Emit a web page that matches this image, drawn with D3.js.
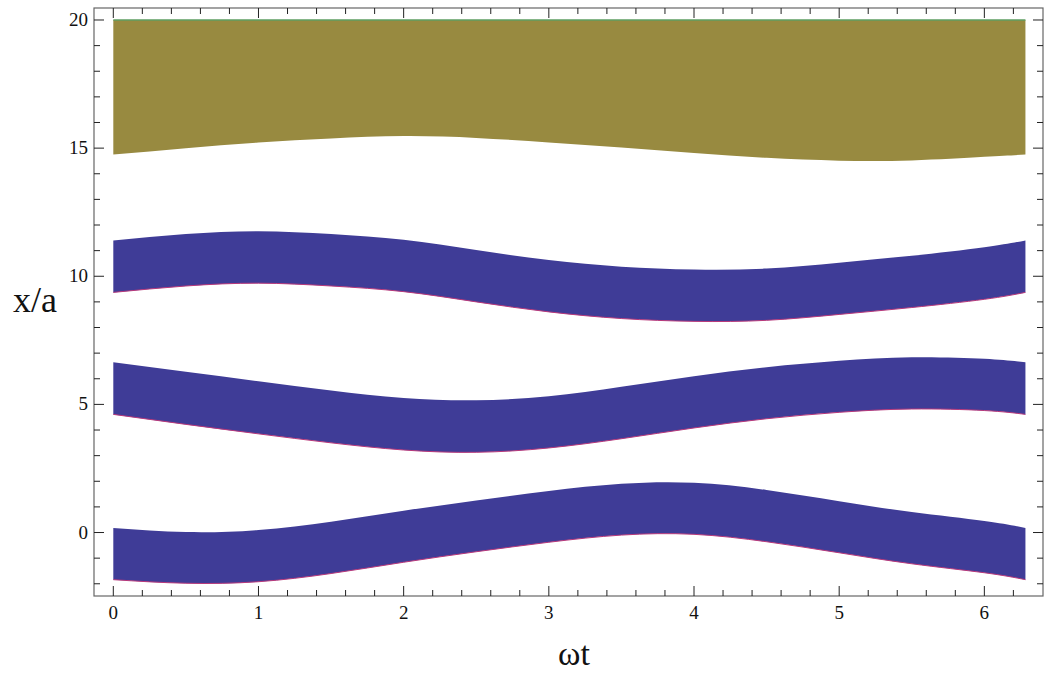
<!DOCTYPE html>
<html lang="en">
    <head>
        <meta charset="utf-8">
        <title></title>
        <script src="https://d3js.org/d3.v7.min.js"></script>
        <style type="text/css">
      body { margin: 0; background: white; }
      .band { fill: #3f3c97; stroke: none; }
      .bandEdge { fill: none; stroke: #b8387a; stroke-width: 1.0px; }
      .topBand { fill: #988a40; stroke: none; }
      .topEdge { fill: none; stroke: #5e9e62; stroke-width: 1.6px; }
      .frame { fill: none; stroke: #666; stroke-width: 1.2px; }
      .tick { stroke: #222; stroke-width: 1px; }
      .ticklabel { font-family: "Liberation Serif", "Times New Roman", "DejaVu Serif", serif; font-size: 19px; fill: #111; }
      .axislabel { font-family: "Liberation Serif", "Times New Roman", "DejaVu Serif", serif; fill: #111; }
        </style>
    </head>
    <body>
    <svg width="1045" height="676"></svg>
    <script>
      // omega t samples
      var tVals = [0, 0.5, 1, 1.5, 2, 2.5, 3, 3.5, 4, 4.5, 5, 5.5, 6, 6.283];

      // band edges (x/a)
      var band1Low  = [-1.84, -1.98, -1.92, -1.60, -1.16, -0.75, -0.38, -0.10, -0.07, -0.36, -0.79, -1.22, -1.57, -1.84];
      var band1High = [0.18, 0.02, 0.10, 0.42, 0.85, 1.25, 1.62, 1.90, 1.94, 1.66, 1.22, 0.80, 0.45, 0.18];
      var band2Low  = [4.61, 4.22, 3.85, 3.50, 3.22, 3.13, 3.30, 3.66, 4.08, 4.44, 4.69, 4.82, 4.76, 4.61];
      var band2High = [6.64, 6.27, 5.90, 5.54, 5.25, 5.16, 5.32, 5.69, 6.10, 6.45, 6.70, 6.84, 6.78, 6.64];
      var band3Low  = [9.37, 9.62, 9.73, 9.62, 9.40, 9.00, 8.61, 8.35, 8.24, 8.28, 8.51, 8.78, 9.10, 9.37];
      var band3High = [11.40, 11.65, 11.76, 11.65, 11.42, 11.02, 10.63, 10.37, 10.26, 10.30, 10.53, 10.80, 11.13, 11.40];
      var topLow    = [14.75, 15.00, 15.22, 15.38, 15.47, 15.40, 15.22, 15.02, 14.81, 14.62, 14.51, 14.52, 14.66, 14.75];
      var topHigh   = 20;

      var xTicks = [0, 1, 2, 3, 4, 5, 6];
      var yTicks = [0, 5, 10, 15, 20];

      var svg = d3.select("svg");
      var plotLeft = 94, plotRight = 1043, plotTop = 8, plotBottom = 596;

      var xScale = d3.scaleLinear().domain([-0.133, 6.404]).range([plotLeft, plotRight]);
      var yScale = d3.scaleLinear().domain([-2.477, 20.468]).range([plotBottom, plotTop]);

      function rows(lo, hi) {
        return tVals.map(function(t, i) {
          return {t: t, lo: lo[i], hi: (typeof hi === "number") ? hi : hi[i]};
        });
      }

      var area = d3.area()
        .x(d => xScale(d.t))
        .y0(d => yScale(d.lo))
        .y1(d => yScale(d.hi))
        .curve(d3.curveNatural);
      var lowLine = d3.line()
        .x(d => xScale(d.t))
        .y(d => yScale(d.lo))
        .curve(d3.curveNatural);
      var highLine = d3.line()
        .x(d => xScale(d.t))
        .y(d => yScale(d.hi))
        .curve(d3.curveNatural);

      var g = svg.append("g");

      // olive region up to x/a = 20
      var topData = rows(topLow, topHigh);
      g.append("path").datum(topData).attr("class", "topBand").attr("d", area);
      g.append("path").datum(topData).attr("class", "topEdge").attr("d", highLine);

      [[band1Low, band1High], [band2Low, band2High], [band3Low, band3High]].forEach(function(b) {
        var data = rows(b[0], b[1]);
        g.append("path").datum(data).attr("class", "band").attr("d", area);
        g.append("path").datum(data).attr("class", "bandEdge").attr("d", lowLine);
      });

      // frame
      svg.append("rect")
        .attr("class", "frame")
        .attr("x", plotLeft).attr("y", plotTop)
        .attr("width", plotRight - plotLeft).attr("height", plotBottom - plotTop);

      // x ticks (bottom + top), minor every 0.2
      var xMinor = d3.range(0, 6.4, 0.2);
      xMinor.forEach(function(v) {
        var major = Math.abs(v - Math.round(v)) < 1e-6;
        var len = major ? 10 : 6;
        var px = xScale(v);
        svg.append("line").attr("class", "tick")
          .attr("x1", px).attr("x2", px).attr("y1", plotBottom).attr("y2", plotBottom - len);
        svg.append("line").attr("class", "tick")
          .attr("x1", px).attr("x2", px).attr("y1", plotTop).attr("y2", plotTop + len);
      });

      // y ticks (left + right), minor every 1
      var yMinor = d3.range(-2, 21, 1);
      yMinor.forEach(function(v) {
        var major = v % 5 === 0;
        var len = major ? 10 : 6;
        var py = yScale(v);
        svg.append("line").attr("class", "tick")
          .attr("x1", plotLeft).attr("x2", plotLeft + len).attr("y1", py).attr("y2", py);
        svg.append("line").attr("class", "tick")
          .attr("x1", plotRight).attr("x2", plotRight - len).attr("y1", py).attr("y2", py);
      });

      svg.selectAll(".xlab").data(xTicks).enter().append("text")
        .attr("class", "ticklabel")
        .attr("x", d => xScale(d))
        .attr("y", plotBottom + 23)
        .attr("text-anchor", "middle")
        .text(d => d);

      svg.selectAll(".ylab").data(yTicks).enter().append("text")
        .attr("class", "ticklabel")
        .attr("x", plotLeft - 6)
        .attr("y", d => yScale(d) + 6)
        .attr("text-anchor", "end")
        .text(d => d);

      svg.append("text").attr("class", "axislabel")
        .attr("x", 35).attr("y", 312)
        .attr("text-anchor", "middle")
        .style("font-size", "36px")
        .text("x/a");

      svg.append("text").attr("class", "axislabel")
        .attr("x", 574).attr("y", 665)
        .attr("text-anchor", "middle")
        .style("font-size", "34px")
        .text("\u03c9t");
</script>
    </body>
</html>
